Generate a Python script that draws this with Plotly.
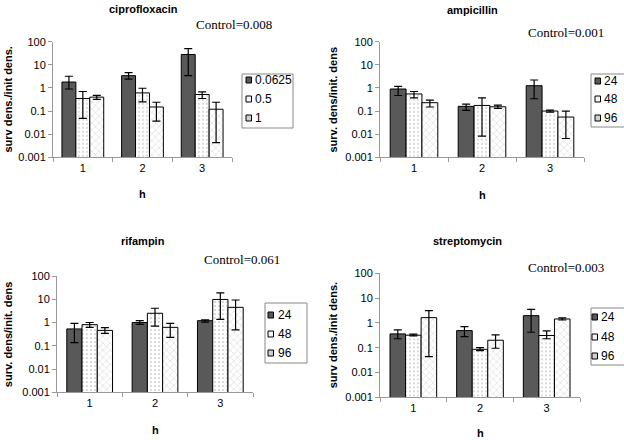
import plotly.graph_objects as go

hours = ["1", "2", "3"]

# ciprofloxacin (series: 0.0625, 0.5, 1)
cipro_names = ["0.0625", "0.5", "1"]
cipro_vals = [[1.8, 3.4, 28.0], [0.35, 0.61, 0.52], [0.40, 0.15, 0.12]]
cipro_hi = [[3.2, 4.6, 50.0], [0.70, 0.97, 0.67], [0.48, 0.24, 0.24]]
cipro_lo = [[0.9, 2.4, 3.4], [0.048, 0.25, 0.35], [0.32, 0.037, 0.0043]]

# ampicillin (series: 24, 48, 96)
amp_names = ["24", "48", "96"]
amp_vals = [[0.9, 0.16, 1.25], [0.55, 0.175, 0.10], [0.23, 0.153, 0.055]]
amp_hi = [[1.18, 0.20, 2.2], [0.70, 0.37, 0.11], [0.30, 0.18, 0.10]]
amp_lo = [[0.47, 0.107, 0.34], [0.37, 0.0083, 0.09], [0.15, 0.13, 0.0065]]

# rifampin (series: 24, 48, 96)
rif_names = ["24", "48", "96"]
rif_vals = [[0.53, 1.0, 1.2], [0.81, 2.5, 9.8], [0.46, 0.62, 4.5]]
rif_hi = [[0.92, 1.2, 1.3], [1.0, 4.1, 19.0], [0.60, 0.92, 9.3]]
rif_lo = [[0.137, 0.84, 1.05], [0.62, 0.70, 1.37], [0.34, 0.23, 0.48]]

# streptomycin (series: 24, 48, 96)
strep_names = ["24", "48", "96"]
strep_vals = [[0.36, 0.49, 1.96], [0.32, 0.086, 0.31], [1.63, 0.20, 1.44]]
strep_hi = [[0.52, 0.71, 3.5], [0.35, 0.10, 0.48], [3.1, 0.33, 1.58]]
strep_lo = [[0.23, 0.28, 0.42], [0.30, 0.076, 0.23], [0.044, 0.095, 1.31]]

panels = [
    dict(title="ciprofloxacin", control="Control=0.008", names=cipro_names,
         vals=cipro_vals, hi=cipro_hi, lo=cipro_lo, ytitle="surv dens./init dens.",
         xd=[53, 232], yd=[41.7, 157.3], box=(242, 74, 293, 128),
         rows=[80, 99, 118], sq=246, tx=253, tpos=(142, 1),
         cpos=(234, 24), hpos=(142, 194), ytx=8),
    dict(title="ampicillin", control="Control=0.001", names=amp_names,
         vals=amp_vals, hi=amp_hi, lo=amp_lo, ytitle="surv. dens/init. dens",
         xd=[380, 584], yd=[41.7, 157.3], box=(591, 74, 640, 127),
         rows=[81, 99, 118], sq=595, tx=602, tpos=(472, 2),
         cpos=(566, 33), hpos=(482, 195), ytx=333),
    dict(title="rifampin", control="Control=0.061", names=rif_names,
         vals=rif_vals, hi=rif_hi, lo=rif_lo, ytitle="surv. dens/init. dens",
         xd=[57, 253], yd=[276, 392.3], box=(265, 303, 307, 363),
         rows=[315, 334, 353], sq=268, tx=276, tpos=(143, 233),
         cpos=(242, 259), hpos=(155, 430), ytx=8),
    dict(title="streptomycin", control="Control=0.003", names=strep_names,
         vals=strep_vals, hi=strep_hi, lo=strep_lo, ytitle="surv dens./init dens.",
         xd=[380, 580], yd=[273.3, 397.3], box=(591, 308, 640, 365),
         rows=[317, 337, 356], sq=592, tx=599, tpos=(467, 233),
         cpos=(566, 267), hpos=(480, 433), ytx=333),
]

W, H = 624, 440
styles = [
    dict(color="#595959", pattern=dict(shape="")),
    dict(color="white", pattern=dict(shape=".", fgcolor="#777777", size=4, solidity=0.15)),
    dict(color="white", pattern=dict(shape="x", fgcolor="#888888", size=5, solidity=0.15)),
]
legend_fills = ["#595959", "#f4f4f4", "#d0d0d0"]

fig = go.Figure()
annotations = []
shapes = []
layout = dict(width=W, height=H, margin=dict(l=0, r=0, t=0, b=0, autoexpand=False),
              paper_bgcolor="white", plot_bgcolor="white", barmode="group",
              bargap=0.3, bargroupgap=0.0, showlegend=False,
              font=dict(family="Liberation Sans, Arial", size=11, color="black"))


def px(x):
    return x / W


def py(y):
    return 1 - y / H


for i, p in enumerate(panels):
    n = i + 1
    xa = "x" if n == 1 else f"x{n}"
    ya = "y" if n == 1 else f"y{n}"
    for s in range(3):
        v = p["vals"][s]
        plus = [h - a for h, a in zip(p["hi"][s], v)]
        minus = [a - l for l, a in zip(p["lo"][s], v)]
        fig.add_trace(go.Bar(
            x=hours, y=v, name=p["names"][s], xaxis=xa, yaxis=ya,
            marker=dict(color=styles[s]["color"], pattern=styles[s]["pattern"],
                        line=dict(color="black", width=1)),
            error_y=dict(type="data", symmetric=False, array=plus, arrayminus=minus,
                         color="black", thickness=1.2, width=4),
        ))
    xk = "xaxis" if n == 1 else f"xaxis{n}"
    yk = "yaxis" if n == 1 else f"yaxis{n}"
    layout[xk] = dict(domain=[px(p["xd"][0]), px(p["xd"][1])], anchor=ya,
                      type="category", showline=True, linecolor="#999999",
                      ticks="outside", tickson="boundaries", ticklen=4,
                      tickcolor="#999999", showgrid=False, zeroline=False,
                      tickfont=dict(size=11))
    layout[yk] = dict(domain=[py(p["yd"][1]), py(p["yd"][0])], anchor=xa,
                      type="log", range=[-3, 2], tickvals=[0.001, 0.01, 0.1, 1, 10, 100],
                      ticktext=["0.001", "0.01", "0.1", "1", "10", "100"],
                      showline=True, linecolor="#999999", ticks="outside", ticklen=4,
                      tickcolor="#999999", showgrid=False, zeroline=False,
                      tickfont=dict(size=11))
    # legend box
    bx0, by0, bx1, by1 = p["box"]
    shapes.append(dict(type="rect", xref="paper", yref="paper", x0=px(bx0), x1=px(bx1),
                       y0=py(by1), y1=py(by0), line=dict(color="#888888", width=1),
                       fillcolor="white", layer="above"))
    for s in range(3):
        r = p["rows"][s]
        shapes.append(dict(type="rect", xref="paper", yref="paper",
                           x0=px(p["sq"]), x1=px(p["sq"] + 5.5),
                           y0=py(r + 3), y1=py(r - 3),
                           line=dict(color="black", width=1),
                           fillcolor=legend_fills[s], layer="above"))
        annotations.append(dict(text=p["names"][s], x=px(p["tx"]), y=py(r),
                                xref="paper", yref="paper", showarrow=False,
                                xanchor="left", yanchor="middle",
                                font=dict(size=12)))
    # panel title: left edge placed from the measured text extent
    tw = 70 if n == 1 else 0
    annotations.append(dict(text=f"<b>{p['title']}</b>",
                            x=px(p["tpos"][0] - tw / 2) if n == 1 else px(p["tpos"][0]),
                            y=py(p["tpos"][1]), xref="paper", yref="paper",
                            xanchor="left" if n == 1 else "center", yanchor="top",
                            showarrow=False, font=dict(size=11)))
    annotations.append(dict(text=p["control"], x=px(p["cpos"][0]),
                            y=py(p["cpos"][1]), xref="paper", yref="paper",
                            xanchor="center", yanchor="middle", showarrow=False,
                            font=dict(family="Liberation Serif, Times New Roman", size=13)))
    annotations.append(dict(text="<b>h</b>", x=px(p["hpos"][0]), y=py(p["hpos"][1]),
                            xref="paper", yref="paper", showarrow=False,
                            xanchor="center", yanchor="middle",
                            font=dict(size=11)))
    yc = (p["yd"][0] + p["yd"][1]) / 2
    annotations.append(dict(text=f"<b>{p['ytitle']}</b>", x=px(p["ytx"]), y=py(yc),
                            xref="paper", yref="paper", showarrow=False, textangle=-90,
                            xanchor="center", yanchor="middle",
                            font=dict(size=11)))

layout["annotations"] = annotations
layout["shapes"] = shapes
fig.update_layout(**layout)
fig.write_html("out.html", config={"displayModeBar": False},
               post_script="document.body.style.margin='0';document.body.style.overflow='hidden';")
